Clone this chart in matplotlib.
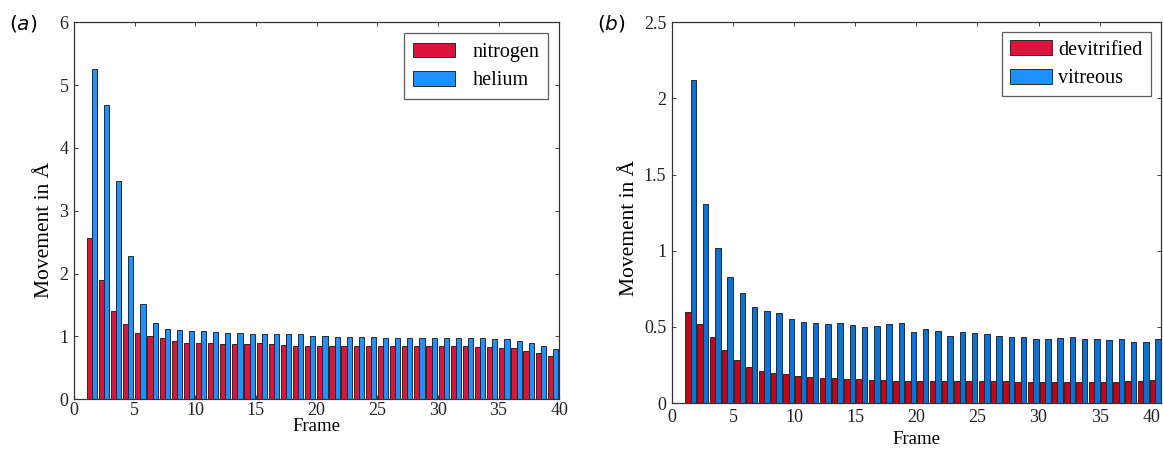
import matplotlib
matplotlib.use('Agg')
import matplotlib.pyplot as plt
import numpy as np
from matplotlib.ticker import FuncFormatter

# panel (a): movement per frame, nitrogen vs helium
frames_a = np.arange(1, 40)
nitrogen = [2.57, 1.90, 1.40, 1.19, 1.06, 1.01, 0.97, 0.93, 0.90, 0.90,
            0.89, 0.88, 0.87, 0.88, 0.89, 0.88, 0.86, 0.85, 0.85, 0.85,
            0.85, 0.85, 0.85, 0.85, 0.85, 0.84, 0.84, 0.84, 0.84, 0.84,
            0.84, 0.84, 0.83, 0.83, 0.82, 0.81, 0.77, 0.73, 0.68]
helium = [5.26, 4.69, 3.48, 2.28, 1.52, 1.21, 1.12, 1.10, 1.09, 1.08,
          1.07, 1.05, 1.05, 1.04, 1.03, 1.03, 1.03, 1.03, 1.01, 1.00,
          0.99, 0.99, 0.99, 0.99, 0.98, 0.98, 0.98, 0.98, 0.98, 0.98,
          0.98, 0.98, 0.97, 0.96, 0.95, 0.92, 0.89, 0.84, 0.79]

# panel (b): devitrified vs vitreous
frames_b = np.arange(1, 40)
devitrified = [0.596, 0.52, 0.432, 0.35, 0.285, 0.24, 0.213, 0.197, 0.19, 0.18,
               0.173, 0.167, 0.165, 0.158, 0.156, 0.15, 0.15, 0.143, 0.143, 0.143,
               0.145, 0.145, 0.145, 0.145, 0.145, 0.143, 0.143, 0.14, 0.14, 0.14,
               0.14, 0.14, 0.14, 0.14, 0.142, 0.142, 0.145, 0.148, 0.15]
vitreous = [2.12, 1.307, 1.02, 0.827, 0.72, 0.63, 0.605, 0.594, 0.555, 0.535,
            0.526, 0.52, 0.526, 0.513, 0.502, 0.506, 0.52, 0.526, 0.467, 0.485,
            0.476, 0.443, 0.467, 0.458, 0.456, 0.442, 0.437, 0.436, 0.424, 0.42,
            0.426, 0.433, 0.419, 0.424, 0.416, 0.424, 0.402, 0.402, 0.419]

plt.rcParams['font.family'] = ['Liberation Serif', 'DejaVu Serif']
plt.rcParams['mathtext.fontset'] = 'dejavusans'

fig = plt.figure(figsize=(11.63, 4.54), dpi=100)
ax_a = fig.add_axes([0.0636, 0.121, 0.4173, 0.8297])
ax_b = fig.add_axes([0.5776, 0.112, 0.4205, 0.839])

fmt = FuncFormatter(lambda v, p: '%g' % v)


def style(ax, ymax, yticks):
    ax.set_xlim(0, 40)
    ax.set_ylim(0, ymax)
    ax.set_xticks(np.arange(0, 41, 5))
    ax.set_yticks(yticks)
    ax.yaxis.set_major_formatter(fmt)
    ax.tick_params(direction='in', top=True, right=True, length=3,
                   width=0.6, labelsize=13, colors='#222222', pad=4)
    for s in ax.spines.values():
        s.set_linewidth(0.9)
        s.set_color('#333333')
    ax.set_xlabel('Frame', fontsize=13.5)
    ax.set_ylabel('Movement in Å', fontsize=15.5)


# (a)
w = 0.425
ax_a.bar(frames_a + 0.05, nitrogen, width=w, align='edge', color='#dc143c',
         edgecolor='#2a2a2a', linewidth=0.7, label='nitrogen')
ax_a.bar(frames_a + 0.05 + w, helium, width=w, align='edge', color='#1e90ff',
         edgecolor='#2a2a2a', linewidth=0.7, label='helium')
style(ax_a, 6, np.arange(0, 7, 1))
ax_a.tick_params(axis='x', pad=2)
ax_a.xaxis.set_label_coords(0.5, -0.05)
ax_a.yaxis.set_label_coords(-0.041, 0.45)
leg = ax_a.legend(loc='upper right', fontsize=14.5, handlelength=2.1,
                  handleheight=0.75, fancybox=False, edgecolor='#333333',
                  borderaxespad=0.55, labelspacing=0.45, handletextpad=0.85,
                  borderpad=0.45)
leg.get_frame().set_linewidth(0.9)

# (b)
w = 0.45
ax_b.bar(frames_b + 0.1, devitrified, width=w, align='edge', color='#c8001a',
         edgecolor='#2a2a2a', linewidth=0.7, label='devitrified')
ax_b.bar(frames_b + 0.1 + w, vitreous, width=w, align='edge', color='#0a72d6',
         edgecolor='#2a2a2a', linewidth=0.7, label='vitreous')
style(ax_b, 2.5, [0, 0.5, 1, 1.5, 2, 2.5])
ax_b.get_xticklabels()[-1].set_horizontalalignment('right')
ax_b.xaxis.set_label_coords(0.5, -0.072)
ax_b.yaxis.set_label_coords(-0.067, 0.46)
leg = ax_b.legend(loc='upper right', fontsize=14.5, handlelength=2.1,
                  handleheight=0.75, fancybox=False, edgecolor='#333333',
                  borderaxespad=0.5, labelspacing=0.45, handletextpad=0.3,
                  borderpad=0.4)
leg.get_frame().set_linewidth(0.9)
leg.legend_handles[0].set_facecolor('#dc143c')
leg.legend_handles[1].set_facecolor('#1e90ff')

fig.text(0.008, 0.935, r'($\mathit{a}$)', fontsize=14.5, family='DejaVu Sans')
fig.text(0.513, 0.935, r'($\mathit{b}$)', fontsize=14.5, family='DejaVu Sans')

fig.savefig('out.png', dpi=100)
